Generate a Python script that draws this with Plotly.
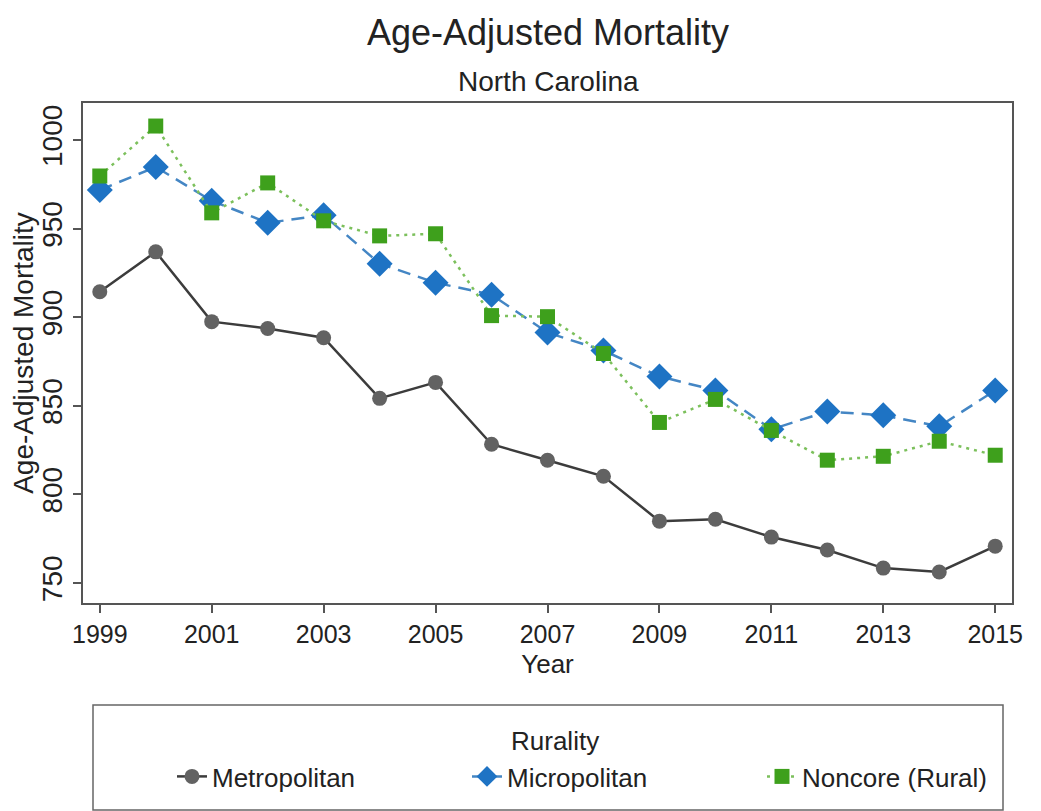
import plotly.graph_objects as go

years = list(range(1999, 2016))
metropolitan = [914.4, 936.9, 897.5, 893.6, 888.4, 854.2, 863.2, 828.3, 819.3, 810.2,
                784.9, 786.0, 775.9, 768.6, 758.4, 756.2, 770.8]
micropolitan = [971.8, 984.8, 965.7, 953.3, 957.6, 930.2, 919.5, 912.7, 891.3, 881.2,
                866.6, 858.7, 836.7, 846.8, 844.6, 838.4, 858.7]
noncore = [979.7, 1007.9, 958.9, 975.8, 954.4, 945.9, 947.1, 900.9, 900.3, 879.5,
           840.6, 853.6, 836.1, 819.3, 821.5, 830.0, 822.1]
xticks = [1999, 2001, 2003, 2005, 2007, 2009, 2011, 2013, 2015]
yticks = [750, 800, 850, 900, 950, 1000]

FONT = "Liberation Sans"
TXT = "#222222"

# page body has an 8px margin: figure is drawn at screen offset (8, 8)
W, H = 1033, 803
L, R, T, B = 75, 29, 95, 208
PW, PH = W - L - R, H - T - B


def px_x(sx):
    return (sx - 8 - L) / PW


def px_y(sy):
    return (H - B - (sy - 8)) / PH


fig = go.Figure()
fig.add_trace(go.Scatter(
    x=years, y=metropolitan, name="Metropolitan", mode="lines+markers",
    line=dict(color="#3c3c3c", width=2.5, dash="solid"),
    marker=dict(symbol="circle", size=15, color="#626262")))
fig.add_trace(go.Scatter(
    x=years, y=micropolitan, name="Micropolitan", mode="lines+markers",
    line=dict(color="#4486c4", width=2.5, dash="13px,8px"),
    marker=dict(symbol="diamond", size=20, color="#1e73c4")))
fig.add_trace(go.Scatter(
    x=years, y=noncore, name="Noncore (Rural)", mode="lines+markers",
    line=dict(color="#7cc05c", width=2.5, dash="3px,5px"),
    marker=dict(symbol="square", size=15, color="#3ea01c")))

fig.update_layout(
    width=W, height=H,
    margin=dict(l=L, r=R, t=T, b=B, autoexpand=False),
    paper_bgcolor="white", plot_bgcolor="white",
    font=dict(family=FONT, color=TXT),
    title=dict(text="Age-Adjusted Mortality", x=(548 - 8) / W, xanchor="center",
               y=1 - (32 - 8) / H, yanchor="middle", yref="container",
               font=dict(size=36, family=FONT, color=TXT)),
    showlegend=True,
    legend=dict(orientation="h", x=px_x(172), xanchor="left", y=px_y(753),
                yanchor="top",
                font=dict(size=26, family=FONT, color=TXT),
                bgcolor="rgba(0,0,0,0)", borderwidth=0,
                entrywidth=250, entrywidthmode="pixels"),
    xaxis=dict(range=[1998.7, 2015.3], tickvals=xticks, ticks="outside", ticklen=8,
               tickwidth=1.5, tickcolor="#555555",
               tickfont=dict(size=25, family=FONT, color=TXT),
               showline=True, linecolor="#555555", linewidth=2, mirror=True,
               showgrid=False, zeroline=False,
               title=dict(text="Year", font=dict(size=26, family=FONT, color=TXT),
                          standoff=8)),
    yaxis=dict(range=[738.7, 1020.9], tickvals=yticks, ticks="outside", ticklen=8,
               tickwidth=1.5, tickcolor="#555555", tickangle=-90,
               tickfont=dict(size=28, family=FONT, color=TXT),
               showline=True, linecolor="#555555", linewidth=2, mirror=True,
               showgrid=False, zeroline=False,
               title=dict(text="Age-Adjusted Mortality",
                          font=dict(size=28, family=FONT, color=TXT),
                          standoff=0)),
)

fig.add_annotation(text="North Carolina", xref="paper", yref="paper",
                   x=px_x(548), y=px_y(82), xanchor="center",
                   yanchor="middle", showarrow=False,
                   font=dict(size=28, family=FONT, color=TXT))

# legend title
fig.add_annotation(text="Rurality", xref="paper", yref="paper",
                   x=px_x(555), y=px_y(741), xanchor="center",
                   yanchor="middle", showarrow=False,
                   font=dict(size=26, family=FONT, color=TXT))

# legend frame
fig.add_shape(type="rect", xref="paper", yref="paper",
              x0=px_x(93), x1=px_x(1003), y0=px_y(810), y1=px_y(705),
              line=dict(color="#666666", width=1.5), fillcolor="rgba(0,0,0,0)")

fig.write_html("out.html")
